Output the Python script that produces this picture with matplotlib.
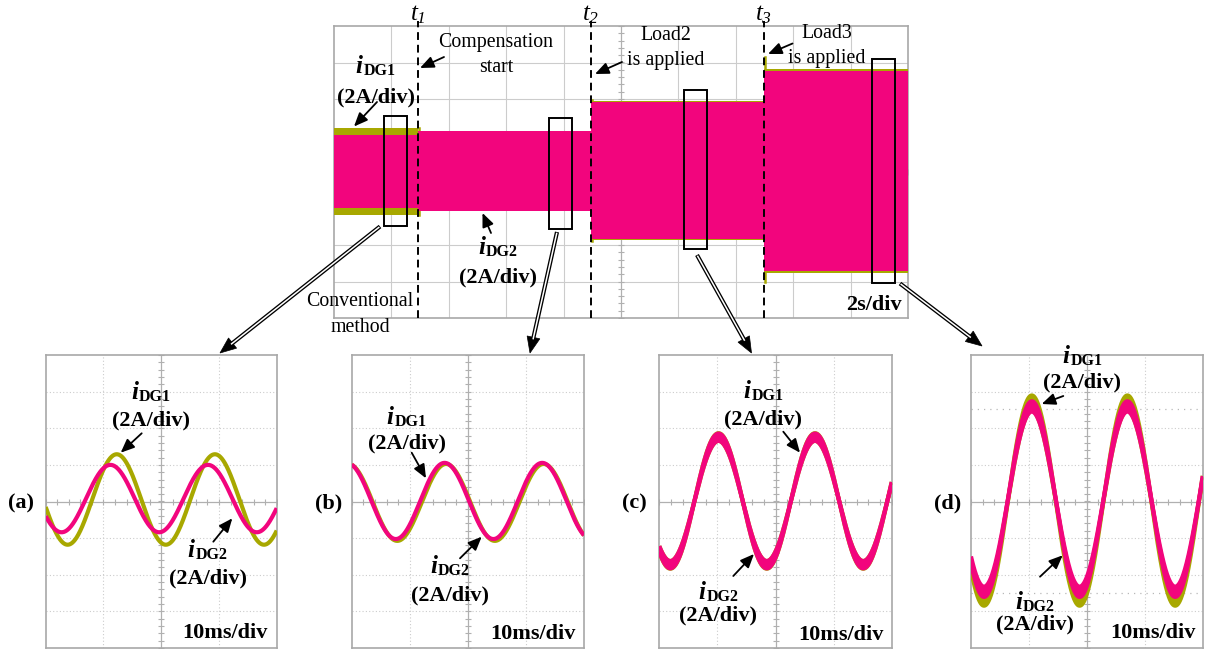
import numpy as np
import matplotlib
matplotlib.use('Agg')
import matplotlib.pyplot as plt
from matplotlib.patches import Rectangle, Polygon

plt.rcParams['font.family'] = ['Liberation Serif', 'DejaVu Serif']
plt.rcParams['mathtext.fontset'] = 'custom'
plt.rcParams['mathtext.rm'] = 'Liberation Serif:italic'
plt.rcParams['mathtext.it'] = 'Liberation Serif:italic'
plt.rcParams['mathtext.bf'] = 'Liberation Serif:bold'

PINK = '#F2057D'
OLIVE = '#A8A800'
GRID = '#CCCCCC'
FRAME = '#A8A8A8'

# ---------------- data: overview record (2 s/div, 2 A/div) ----------------
seg_start_s = [0.0, 2.91, 8.96, 14.98]
seg_end_s = [2.91, 8.96, 14.98, 20.0]
dg1_env_top_A = [2.42, 2.26, 3.90, 5.62]
dg1_env_bot_A = [-2.36, -2.12, -3.72, -5.54]
dg2_env_top_A = [2.02, 2.26, 3.86, 5.54]
dg2_env_bot_A = [-1.98, -2.12, -3.68, -5.40]
event_times_s = [2.91, 8.96, 14.98]
event_labels = [r'$t_{1}$', r'$t_{2}$', r'$t_{3}$']
dg1_spike_top_A = [2.42, 3.95, 6.30]
dg1_spike_bot_A = [-2.36, -3.80, -6.00]

# zoom windows shown below (s) and their current range (A)
win_start_s = [1.74, 7.48, 12.20, 18.74]
win_end_s = [2.54, 8.28, 13.00, 19.54]
win_top_A = [3.06, 2.96, 4.50, 6.20]
win_bot_A = [-2.96, -3.12, -4.22, -6.08]

# ---------------- data: zoomed waveforms (10 ms/div, 2 A/div) -------------
panel_labels = ['(a)', '(b)', '(c)', '(d)']
# each entry: [iDG1, iDG2]
period_ms = [[17.0, 16.9], [16.8, 16.8], [16.6, 16.6], [16.5, 16.5]]
peak_time_ms = [[12.3, 11.2], [16.25, 16.0], [10.2, 10.2], [10.5, 10.5]]
offset_A = [[0.11, 0.16], [-0.05, 0.03], [0.03, 0.03], [0.05, 0.13]]
amp_outer_A = [[2.47, 1.84], [2.10, 2.08], [3.70, 3.68], [5.74, 5.34]]
amp_inner_A = [[2.47, 1.84], [2.10, 2.08], [3.28, 3.28], [4.90, 4.78]]
cursor_A = [None, None, None, [5.06, -5.0]]

W, H = 1206, 651
fig = plt.figure(figsize=(W / 100, H / 100), dpi=100)


def px_axes(x0, y0, x1, y1, **kw):
    return fig.add_axes([x0 / W, 1 - y1 / H, (x1 - x0) / W, (y1 - y0) / H], **kw)


def scope_grid(ax, ndx, ndy, xmax, ymax, dotted):
    dx = xmax / ndx
    dy = 2 * ymax / ndy
    ls = (0, (1, 2)) if dotted else '-'
    for i in range(1, ndx):
        x = i * dx
        if abs(x - xmax / 2) > 1e-9:
            ax.axvline(x, color=GRID, lw=0.8, ls=ls, zorder=1)
    for j in range(1, ndy):
        y = -ymax + j * dy
        if abs(y) > 1e-9:
            ax.axhline(y, color=GRID, lw=0.8, ls=ls, zorder=1)
    ax.axvline(xmax / 2, color='#B0B0B0', lw=0.9, zorder=1)
    ax.axhline(0, color='#B0B0B0', lw=0.9, zorder=1)
    xt = np.arange(0, xmax + 1e-9, dx / 5)
    yt = np.arange(-ymax, ymax + 1e-9, dy / 5)
    ax.plot(xt, np.zeros_like(xt), ls='none', marker='|', ms=5, mew=0.8,
            color='#B0B0B0', zorder=1)
    ax.plot(np.full_like(yt, xmax / 2), yt, ls='none', marker='_', ms=5,
            mew=0.8, color='#B0B0B0', zorder=1)
    ax.set_xlim(0, xmax)
    ax.set_ylim(-ymax, ymax)
    ax.set_xticks([])
    ax.set_yticks([])
    for s in ax.spines.values():
        s.set_color(FRAME)
        s.set_linewidth(1.2)


# ---------------- top overview panel ----------------
axt = px_axes(334, 26, 908, 318)
scope_grid(axt, 10, 8, 20.0, 8.0, dotted=False)


def step_xy(starts, ends, vals):
    xs, ys = [], []
    for s, e, v in zip(starts, ends, vals):
        xs += [s, e]
        ys += [v, v]
    return np.array(xs), np.array(ys)


x1, y1t = step_xy(seg_start_s, seg_end_s, dg1_env_top_A)
_, y1b = step_xy(seg_start_s, seg_end_s, dg1_env_bot_A)
x2, y2t = step_xy(seg_start_s, seg_end_s, dg2_env_top_A)
_, y2b = step_xy(seg_start_s, seg_end_s, dg2_env_bot_A)
axt.fill_between(x1, y1b, y1t, color=OLIVE, lw=0, zorder=3)
for t, st, sb in zip(event_times_s, dg1_spike_top_A, dg1_spike_bot_A):
    axt.plot([t + 0.04, t + 0.04], [sb, st], color=OLIVE, lw=1.8, zorder=3)
axt.fill_between(x2, y2b, y2t, color=PINK, lw=0, zorder=4)

for t, lab in zip(event_times_s, event_labels):
    axt.plot([t, t], [-8, 8.25], color='black', lw=1.4, ls=(0, (4, 2.5)),
             clip_on=False, zorder=6)
    axt.text(t, 8.62, lab, ha='center', va='center', fontsize=18,
             clip_on=False)

for s, e, tp, bt in zip(win_start_s, win_end_s, win_top_A, win_bot_A):
    axt.add_patch(Rectangle((s, bt), e - s, tp - bt, fill=False,
                            ec='black', lw=1.4, zorder=7))

# ---------------- bottom zoomed panels ----------------
panel_px = [(45.7, 355, 276.7, 648), (351.7, 355, 584, 648),
            (659.3, 355, 891.7, 648), (971, 355, 1202.7, 648)]
t_ms = np.linspace(0, 40, 1200)


def wave(t, per, pk, off, amp):
    return off + amp * np.cos(2 * np.pi * (t - pk) / per)


for k, (x0, y0, x1p, y1p) in enumerate(panel_px):
    ax = px_axes(x0, y0, x1p, y1p)
    scope_grid(ax, 4, 8, 40.0, 8.0, dotted=True)
    if cursor_A[k]:
        for c in cursor_A[k]:
            ax.axhline(c, color='#B8B8B8', lw=0.9, ls=(0, (1, 4)), zorder=1)
    for ch, col, z in ((0, OLIVE, 3), (1, PINK, 4)):
        yo = wave(t_ms, period_ms[k][ch], peak_time_ms[k][ch], offset_A[k][ch],
                  amp_outer_A[k][ch])
        yi = wave(t_ms, period_ms[k][ch], peak_time_ms[k][ch], offset_A[k][ch],
                  amp_inner_A[k][ch])
        if amp_outer_A[k][ch] != amp_inner_A[k][ch]:
            ax.fill_between(t_ms, yi, yo, color=col, lw=0, zorder=z)
            ax.plot(t_ms, yi, color=col, lw=3.0, zorder=z,
                    solid_capstyle='butt')
        ax.plot(t_ms, yo, color=col, lw=3.0, zorder=z, solid_capstyle='butt')

# ---------------- overlay: text and arrows ----------------
ov = fig.add_axes([0, 0, 1, 1], zorder=20)
ov.set_xlim(0, W)
ov.set_ylim(H, 0)
ov.axis('off')
ov.patch.set_alpha(0)
renderer = fig.canvas.get_renderer()

RS = 14.3  # regular text size
BS = 16    # bold label size


def small_arrow(x0, y0, x1, y1):
    ov.annotate('', xy=(x1, y1), xytext=(x0, y0),
                arrowprops=dict(arrowstyle='-|>,head_length=0.75,head_width=0.32',
                                color='black', lw=1.3, mutation_scale=11,
                                shrinkA=0, shrinkB=0))


def big_arrow(x0, y0, x1, y1):
    d = np.array([x1 - x0, y1 - y0], float)
    L = np.hypot(*d)
    u = d / L
    n = np.array([-u[1], u[0]])
    hl, hw = 16.0, 6.5
    base = np.array([x1, y1]) - u * hl
    ov.plot([x0, base[0] + u[0] * 2], [y0, base[1] + u[1] * 2], color='black',
            lw=3.0, solid_capstyle='butt')
    ov.plot([x0 + u[0] * 0.8, base[0] + u[0] * 2], [y0 + u[1] * 0.8, base[1] + u[1] * 2],
            color='white', lw=1.1, solid_capstyle='butt')
    ov.add_patch(Polygon([(x1, y1), tuple(base + n * hw), tuple(base - n * hw)],
                         closed=True, fc='black', ec='black', lw=0.5))


def cur_name(xc, yc, sub):
    ti = ov.text(0, 0, 'i', fontsize=18, fontweight='bold', fontstyle='italic',
                 ha='left', va='baseline')
    ts = ov.text(0, 0, sub, fontsize=11.5, fontweight='bold', ha='left',
                 va='baseline')
    wi = ti.get_window_extent(renderer).width
    ws = ts.get_window_extent(renderer).width
    x0 = xc - (wi + 1 + ws) / 2
    ti.set_position((x0, yc + 7))
    ts.set_position((x0 + wi + 1, yc + 9))


def cur_label(x, y, y2, sub):
    cur_name(x, y, sub)
    ov.text(x, y2, '(2A/div)', ha='center', va='center', fontsize=BS,
            fontweight='bold')


# top panel annotations
ov.text(496, 42, 'Compensation', ha='center', va='center', fontsize=RS)
ov.text(496, 67, 'start', ha='center', va='center', fontsize=RS)
small_arrow(444, 57, 420, 68)
cur_label(375.5, 66, 97, 'DG1')
small_arrow(377, 102, 354, 126.5)
ov.text(666, 36, 'Load2', ha='center', va='center', fontsize=RS)
ov.text(666, 61, 'is applied', ha='center', va='center', fontsize=RS)
small_arrow(622, 62, 595, 74)
ov.text(827, 34, 'Load3', ha='center', va='center', fontsize=RS)
ov.text(827, 58, 'is applied', ha='center', va='center', fontsize=RS)
small_arrow(792.5, 43.5, 768, 54)
cur_label(498, 247, 277, 'DG2')
small_arrow(491, 233, 482.5, 213)
ov.text(360, 302, 'Conventional', ha='center', va='center', fontsize=RS)
ov.text(360, 327, 'method', ha='center', va='center', fontsize=RS)
ov.text(874, 305, '2s/div', ha='center', va='center', fontsize=BS,
        fontweight='bold')

# big connecting arrows
big_arrow(380, 226.5, 220, 353)
big_arrow(557, 232, 530, 353)
big_arrow(697, 255, 751.5, 353)
big_arrow(900, 283.5, 982, 346)

# bottom panel labels
label_xy = [(21, 503), (329, 503), (634, 503), (947.5, 503)]
for (x, y), lab in zip(label_xy, panel_labels):
    ov.text(x, y, lab, ha='center', va='center', fontsize=BS, fontweight='bold')
div_xy = [(224.7, 633), (532.5, 634), (840.8, 635), (1152.5, 633)]
for x, y in div_xy:
    ov.text(x, y, '10ms/div', ha='center', va='center', fontsize=BS,
            fontweight='bold')

# (a)
cur_label(151, 392, 420, 'DG1')
small_arrow(141.7, 433.3, 120.7, 452.7)
cur_label(207.5, 550, 578, 'DG2')
small_arrow(213.3, 541.7, 232.3, 518.3)
# (b)
cur_label(406.7, 417, 443, 'DG1')
small_arrow(411.7, 452.7, 426, 478.3)
cur_label(450, 566, 595, 'DG2')
small_arrow(460, 558.3, 481.7, 536.7)
# (c)
cur_label(763.3, 391, 419.3, 'DG1')
small_arrow(783.3, 431.7, 800, 452.7)
cur_label(718.5, 592, 615, 'DG2')
small_arrow(733.3, 576, 754, 554)
# (d)
cur_label(1082.5, 356, 382.7, 'DG1')
small_arrow(1063.3, 396, 1041.7, 404)
cur_label(1035, 602, 624, 'DG2')
small_arrow(1040, 576.7, 1062.7, 555.3)

fig.savefig('out.png', dpi=100)
